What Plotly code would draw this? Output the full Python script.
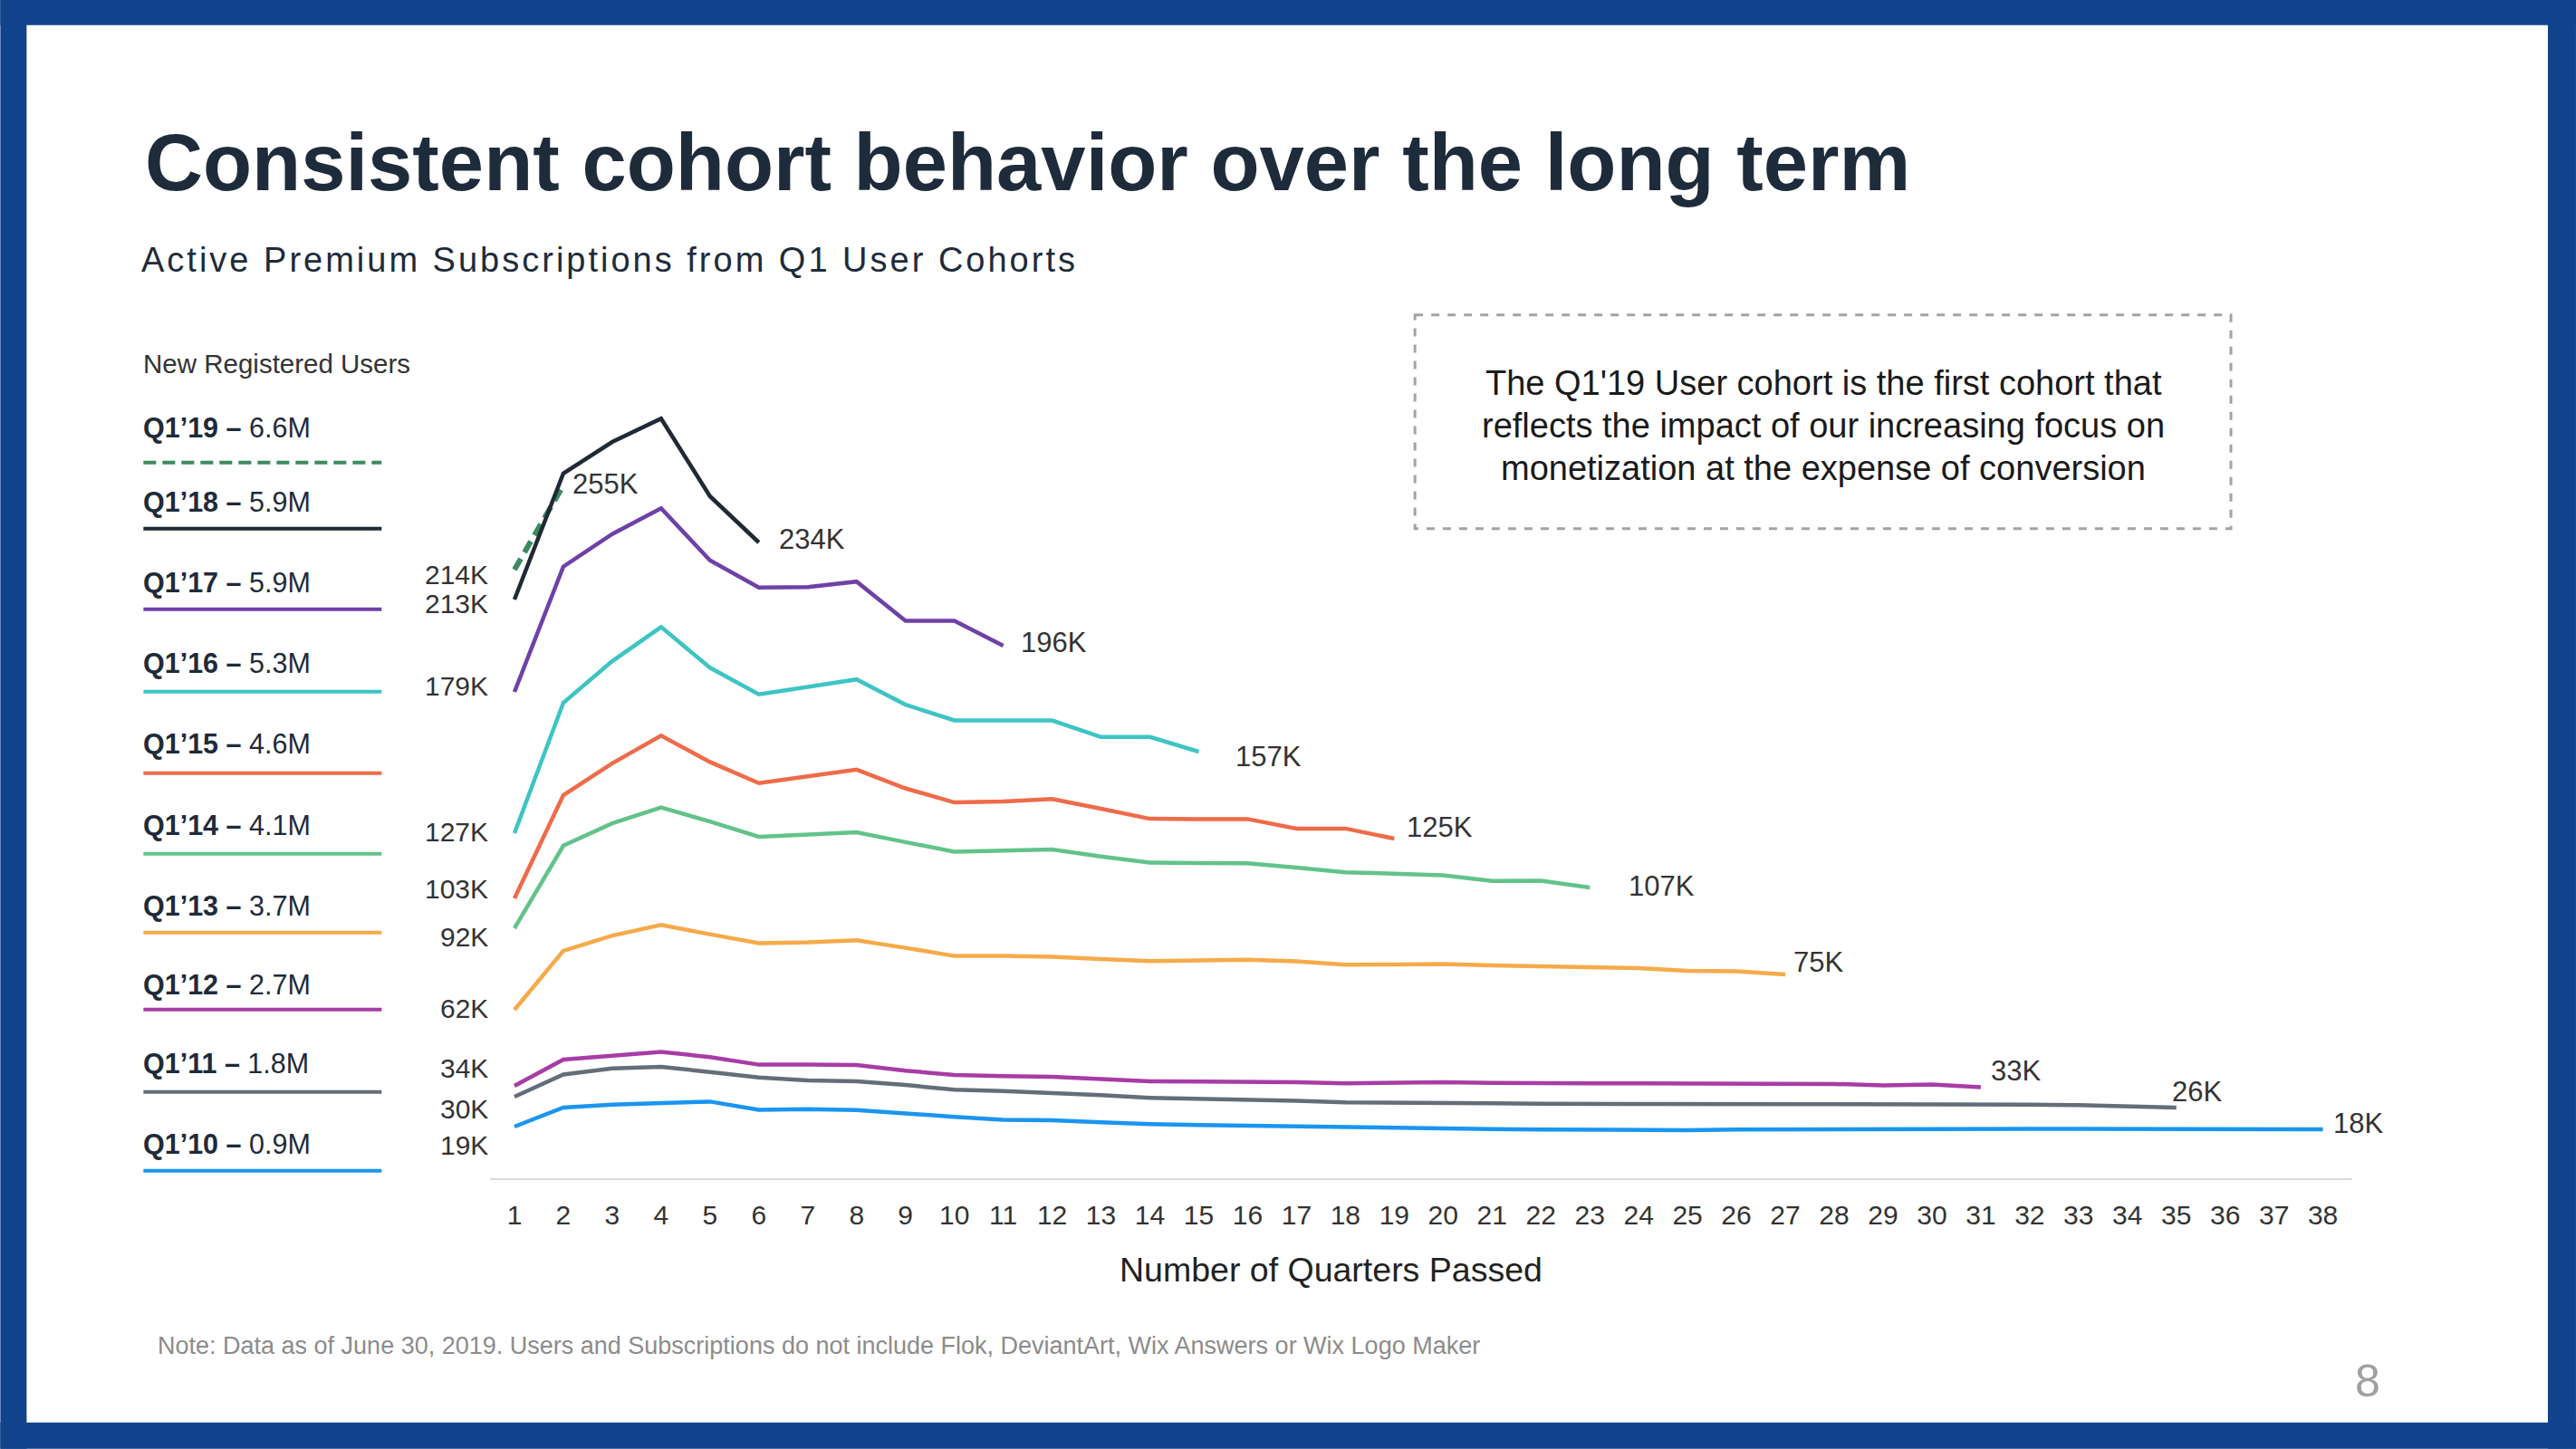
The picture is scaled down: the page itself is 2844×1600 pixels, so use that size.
import plotly.graph_objects as go

# ---------------- data ----------------
quarters = list(range(1, 39))
tick_labels = [str(q) for q in quarters]

cohorts = ["Q1’19", "Q1’18", "Q1’17", "Q1’16", "Q1’15", "Q1’14", "Q1’13", "Q1’12", "Q1’11", "Q1’10"]
new_users = ["6.6M", "5.9M", "5.9M", "5.3M", "4.6M", "4.1M", "3.7M", "2.7M", "1.8M", "0.9M"]

q1_19 = [224, 255]
q1_18 = [213, 259.4, 271, 279.6, 251, 234]
q1_17 = [179, 225.1, 237.1, 246.6, 227.4, 217.4, 217.6, 219.6, 205.2, 205.2, 196]
q1_16 = [127, 175, 190.3, 202.9, 187.9, 178.1, 180.8, 183.6, 174.3, 168.5, 168.5, 168.5, 162.4, 162.4, 157]
q1_15 = [103, 141, 152.7, 162.9, 153.2, 145.4, 147.9, 150.4, 143.5, 138.3, 138.7, 139.6, 136, 132.3,
         132.2, 132.2, 128.7, 128.7, 125]
q1_14 = [92, 122.4, 130.6, 136.5, 131.3, 125.7, 126.5, 127.3, 123.7, 120.2, 120.6, 121, 118.4, 116.2,
         116, 115.9, 114.3, 112.6, 112.1, 111.5, 109.4, 109.5, 107]
q1_13 = [62, 83.7, 89.3, 93.2, 89.8, 86.5, 86.8, 87.6, 84.8, 81.8, 81.8, 81.5, 80.7, 79.9, 80.2, 80.4,
         79.8, 78.6, 78.7, 78.8, 78.3, 78, 77.8, 77.3, 76.3, 76.2, 75]
q1_12 = [34, 43.7, 45.1, 46.5, 44.6, 41.8, 41.8, 41.7, 39.6, 38, 37.6, 37.3, 36.5, 35.7, 35.6, 35.5,
         35.3, 34.9, 35.1, 35.3, 35.1, 34.9, 34.9, 34.9, 34.9, 34.9, 34.7, 34.7, 34.2, 34.5, 33.5]
q1_11 = [30, 38.2, 40.4, 41, 39.1, 37.1, 36, 35.7, 34.3, 32.6, 32.1, 31.5, 30.6, 29.6, 29.3, 28.9,
         28.5, 27.9, 27.9, 27.7, 27.6, 27.4, 27.4, 27.3, 27.3, 27.1, 27.3, 27.3, 27.3, 27.3, 27.3,
         27.1, 26.9, 26.5, 26]
q1_10 = [19, 26, 27.1, 27.6, 28.2, 25.2, 25.4, 25.1, 23.7, 22.6, 21.5, 21.3, 20.6, 19.9, 19.6, 19.3,
         19.1, 18.8, 18.6, 18.3, 18.1, 17.9, 17.8, 17.7, 17.7, 17.9, 18.0, 18.0, 18.0, 18.1, 18.2,
         18.2, 18.2, 18.2, 18.3, 18.3, 18.2, 18]

series = [q1_19, q1_18, q1_17, q1_16, q1_15, q1_14, q1_13, q1_12, q1_11, q1_10]

start_labels = ["214K", "213K", "179K", "127K", "103K", "92K", "62K", "34K", "30K", "19K"]
end_labels = ["255K", "234K", "196K", "157K", "125K", "107K", "75K", "33K", "26K", "18K"]

callout_lines = ["The Q1'19 User cohort is the first cohort that",
                 "reflects the impact of our increasing focus on",
                 "monetization at the expense of conversion"]

# ---------------- styles ----------------
colors = ["#3D8A5F", "#1F2A36", "#7040A8", "#3EC4C4", "#EF6B49",
          "#62C38A", "#F6AA4A", "#A83CA6", "#646E78", "#1A95F0"]
widths = [6, 4.5, 4.5, 4.5, 4.5, 4.5, 4.5, 4.5, 4.5, 4.5]
dashes = ["14px,8px"] + ["solid"] * 9
legend_dashes = ["14px,7px"] + ["solid"] * 9

start_shift_y = [-5, -4, 7, 2, 11, -9, 2, 20, -13, -20]
end_shift = [(8, 2), (20, 4), (17, 4), (39, -5), (12, 13), (41, 2), (7, 14), (9, 18), (-7, 18), (9, 7)]

FONT = "Liberation Sans, Arial, Helvetica, sans-serif"
DARK = "#1E2B3A"
TXT = "#333333"

W_PX, H_PX = 2844, 1600
L, R, T, B = 540.7, 2597.0, 401.3, 1301.3
PW, PH = R - L, B - T


def px(x):
    return (x - L) / PW


def py(y):
    return (B - y) / PH


fig = go.Figure()

for vals, name, col, w, d in zip(series, cohorts, colors, widths, dashes):
    fig.add_trace(go.Scatter(
        x=quarters[:len(vals)], y=vals, mode="lines", name=name,
        line=dict(color=col, width=w, dash=d), showlegend=False, hoverinfo="skip"))

ann = []
# start labels
for vals, lab, dy in zip(series, start_labels, start_shift_y):
    ann.append(dict(x=quarters[0], y=vals[0], xref="x", yref="y", text=lab, showarrow=False,
                    xanchor="right", yanchor="middle", xshift=-27, yshift=dy,
                    font=dict(family=FONT, size=30, color=TXT)))
# end labels
for vals, lab, (dx, dy) in zip(series, end_labels, end_shift):
    ann.append(dict(x=quarters[len(vals) - 1], y=vals[-1], xref="x", yref="y", text=lab,
                    showarrow=False, xanchor="left", yanchor="middle", xshift=dx, yshift=dy,
                    font=dict(family=FONT, size=31, color=TXT)))

# title & subtitle
ann.append(dict(x=px(158), y=py(180), xref="paper", yref="paper", xanchor="left", yanchor="middle",
                text="<b>Consistent cohort behavior over the long term</b>", showarrow=False,
                font=dict(family=FONT, size=88.6, color=DARK)))
ann.append(dict(x=px(154), y=py(287), xref="paper", yref="paper", xanchor="left", yanchor="middle",
                text='<span style="letter-spacing:3px">Active Premium Subscriptions from Q1 User Cohorts</span>',
                showarrow=False, font=dict(family=FONT, size=38, color=DARK)))

# legend block
ann.append(dict(x=px(156), y=py(402), xref="paper", yref="paper", xanchor="left", yanchor="middle",
                text="New Registered Users", showarrow=False, font=dict(family=FONT, size=29.5, color=TXT)))
legend_text_y = [473, 555, 644, 733, 822, 912, 1001, 1088, 1175, 1264]
legend_line_y = [511, 584, 673, 764, 854, 943, 1030, 1115, 1206, 1293]
shapes = []
for name, users, col, d, ty, ly in zip(cohorts, new_users, colors, legend_dashes, legend_text_y, legend_line_y):
    ann.append(dict(x=px(156), y=py(ty), xref="paper", yref="paper", xanchor="left", yanchor="middle",
                    text=f"<b>{name} –</b> {users}", showarrow=False,
                    font=dict(family=FONT, size=30.5, color=DARK)))
    shapes.append(dict(type="line", xref="paper", yref="paper", x0=px(158), x1=px(421),
                       y0=py(ly), y1=py(ly), line=dict(color=col, width=4, dash=d)))

# callout box
shapes.append(dict(type="rect", xref="paper", yref="paper", x0=px(1562), x1=px(2463),
                   y0=py(348), y1=py(584), line=dict(color="#A3A3A3", width=3, dash="dash")))
for line_text, ly in zip(callout_lines, [423, 470, 517]):
    ann.append(dict(x=px(2013), y=py(ly), xref="paper", yref="paper", xanchor="center", yanchor="middle",
                    text=line_text, showarrow=False, align="center",
                    font=dict(family=FONT, size=38, color="#1A1A1A")))

# axis title
ann.append(dict(x=px(1469), y=py(1402), xref="paper", yref="paper", xanchor="center", yanchor="middle",
                text="Number of Quarters Passed", showarrow=False,
                font=dict(family=FONT, size=37.5, color="#222222")))
# footer
ann.append(dict(x=px(172), y=py(1486), xref="paper", yref="paper", xanchor="left", yanchor="middle",
                text="Note: Data as of June 30, 2019. Users and Subscriptions do not include Flok, DeviantArt, "
                     "Wix Answers or Wix Logo Maker",
                showarrow=False, font=dict(family=FONT, size=27, color="#8C8C8C")))
ann.append(dict(x=px(2614), y=py(1525), xref="paper", yref="paper", xanchor="center", yanchor="middle",
                text="8", showarrow=False, font=dict(family=FONT, size=50, color="#A0A0A0")))

# blue frame
BLUE = "#11428C"
for x0, x1, y0, y1 in [(0, W_PX, 0, 28), (0, W_PX, 1571, H_PX), (0, 29, 0, H_PX), (2813, W_PX, 0, H_PX)]:
    shapes.append(dict(type="rect", xref="paper", yref="paper", x0=px(x0), x1=px(x1),
                       y0=py(y1), y1=py(y0), fillcolor=BLUE, line=dict(width=0), layer="above"))

fig.update_layout(
    width=W_PX, height=H_PX,
    margin=dict(l=L, r=W_PX - R, t=T, b=H_PX - B, autoexpand=False),
    paper_bgcolor="white", plot_bgcolor="white",
    annotations=ann, shapes=shapes,
    xaxis=dict(range=[0.5, 38.6], tickvals=quarters, ticktext=tick_labels, showgrid=False,
               zeroline=False, showline=True, linecolor="#D9D9D9", linewidth=2,
               ticks="outside", ticklen=13, tickcolor="rgba(0,0,0,0)",
               tickfont=dict(family=FONT, size=30, color=TXT)),
    yaxis=dict(range=[0, 300], visible=False, showgrid=False, zeroline=False),
)

fig.write_html(
    "out.html",
    config={"displayModeBar": False},
    post_script="document.body.style.margin='0';document.body.style.overflow='hidden';"
                "document.body.style.background='#11428C';",
)
